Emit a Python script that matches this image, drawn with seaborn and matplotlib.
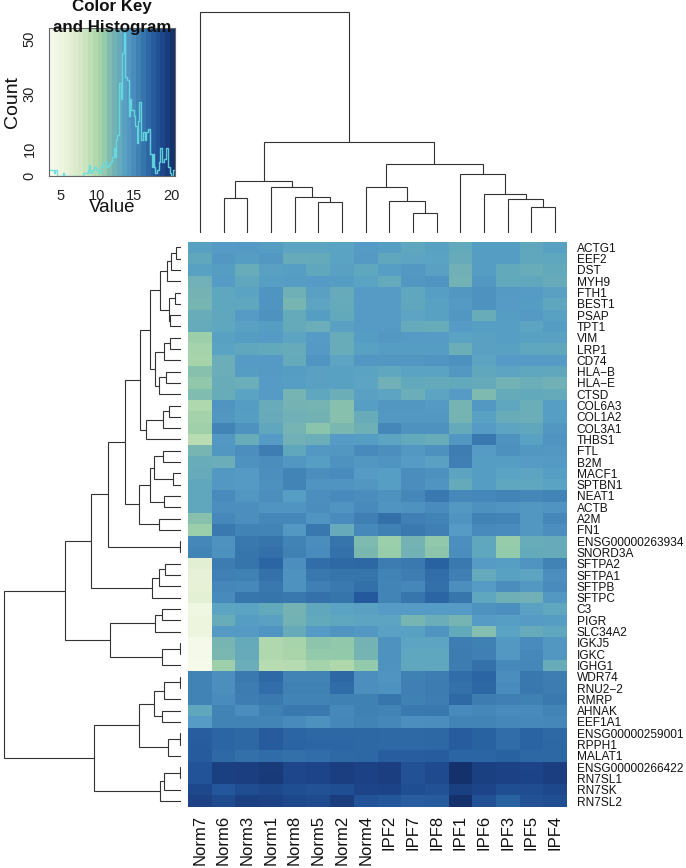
import numpy as np
import pandas as pd
import matplotlib
matplotlib.use("Agg")
import matplotlib.pyplot as plt
from matplotlib.colors import LinearSegmentedColormap
import seaborn as sns

sns.set_theme(style="white")
plt.rcParams['font.family'] = ['Liberation Sans', 'DejaVu Sans']

samples = ["Norm7","Norm6","Norm3","Norm1","Norm8","Norm5","Norm2","Norm4",
           "IPF2","IPF7","IPF8","IPF1","IPF6","IPF3","IPF5","IPF4"]
genes = ["ACTG1","EEF2","DST","MYH9","FTH1","BEST1","PSAP","TPT1","VIM","LRP1","CD74",
         "HLA\u2212B","HLA\u2212E","CTSD","COL6A3","COL1A2","COL3A1","THBS1","FTL","B2M",
         "MACF1","SPTBN1","NEAT1","ACTB","A2M","FN1","ENSG00000263934","SNORD3A",
         "SFTPA2","SFTPA1","SFTPB","SFTPC","C3","PIGR","SLC34A2","IGKJ5","IGKC","IGHG1",
         "WDR74","RNU2\u22122","RMRP","AHNAK","EEF1A1","ENSG00000259001","RPPH1","MALAT1",
         "ENSG00000266422","RN7SL1","RN7SK","RN7SL2"]

expr = [
[13.6,14.0,14.1,13.9,13.4,13.4,13.5,14.0,13.8,13.3,13.6,13.1,13.9,13.9,13.2,13.6],
[13.2,14.2,13.9,14.2,12.9,13.0,13.5,14.1,13.2,13.4,13.5,12.9,13.9,13.9,13.2,13.3],
[13.6,13.9,12.8,13.7,13.8,13.2,13.7,13.3,13.8,14.2,13.7,12.4,13.9,13.1,12.8,13.1],
[12.4,14.0,13.2,13.8,13.9,14.0,13.9,13.5,13.0,14.3,14.5,12.3,14.2,13.1,13.2,12.9],
[12.2,13.3,13.5,14.4,12.5,13.7,12.9,14.0,14.0,13.3,13.8,14.3,14.6,14.1,14.0,13.7],
[12.0,13.3,13.3,14.4,12.0,13.4,13.0,14.0,14.0,13.2,13.6,14.1,14.6,14.0,13.9,13.3],
[12.8,13.2,14.0,14.6,13.0,13.9,13.1,14.0,14.0,13.4,13.6,14.3,12.8,13.9,14.1,13.6],
[13.0,13.3,13.7,13.9,13.0,12.7,13.7,14.0,14.1,13.0,12.8,14.0,13.8,13.8,13.4,13.9],
[10.7,13.6,13.9,14.0,13.4,14.0,12.8,13.9,14.2,14.1,14.0,13.5,13.7,13.8,13.6,13.7],
[10.3,13.5,13.2,13.1,12.9,14.1,12.8,13.6,13.9,13.9,13.9,12.6,13.7,13.6,13.3,13.2],
[10.2,12.7,14.0,14.1,13.0,14.5,13.4,14.3,14.3,14.3,14.5,14.7,13.4,14.1,14.0,14.0],
[11.5,12.7,13.9,14.1,13.9,13.7,13.6,13.5,13.3,13.5,13.5,14.2,13.2,13.4,13.3,13.2],
[11.2,12.8,12.7,14.0,13.8,13.7,13.6,13.4,12.4,13.1,13.0,13.1,13.0,12.3,12.6,12.4],
[11.7,12.8,13.5,14.0,12.1,13.3,12.6,13.7,13.4,12.7,13.4,14.0,11.8,13.0,13.1,13.0],
[ 9.8,14.5,13.9,12.8,12.2,12.1,11.5,13.8,14.3,14.3,14.1,12.1,14.2,13.3,12.6,13.8],
[10.4,14.3,13.8,12.9,12.4,12.3,11.5,12.8,14.2,14.2,14.2,12.1,13.6,12.8,12.6,13.8],
[10.6,15.4,14.6,13.2,12.1,11.4,11.9,12.5,15.3,14.6,14.6,13.0,14.0,13.4,13.2,14.3],
[ 9.3,14.2,12.8,14.0,12.4,12.7,14.0,13.9,13.4,13.1,12.8,14.3,16.0,14.6,13.6,14.4],
[12.0,14.3,14.8,15.8,13.2,14.2,14.3,15.1,14.8,14.2,14.7,15.8,14.0,14.7,14.3,14.2],
[12.8,12.7,14.6,14.9,14.3,13.8,14.6,14.3,14.4,14.0,13.7,15.7,13.9,13.9,14.0,14.1],
[12.9,14.2,14.1,14.8,15.4,14.9,15.0,14.0,13.8,14.9,14.7,13.4,13.9,13.5,13.4,13.8],
[13.2,14.2,14.1,14.7,15.4,14.5,14.4,14.3,13.8,14.9,14.4,13.0,13.9,13.3,13.3,13.5],
[13.2,15.0,14.3,14.8,13.8,14.8,15.1,14.9,14.6,15.3,16.0,15.2,15.3,15.4,15.3,15.4],
[13.2,14.8,14.8,14.5,14.4,14.9,14.5,15.1,14.5,14.6,15.0,14.2,14.7,14.5,14.3,14.5],
[11.5,15.2,14.8,15.3,15.3,14.5,15.0,15.7,16.5,15.7,15.5,14.5,15.5,15.4,14.3,15.3],
[10.8,16.0,15.5,15.4,14.2,16.1,12.9,15.2,15.6,16.0,15.7,14.0,15.1,15.0,14.3,14.8],
[15.3,14.6,16.1,16.3,15.5,14.9,16.3,11.8,10.8,12.2,11.2,14.8,13.2,11.0,12.8,12.9],
[15.4,14.7,16.2,16.5,15.6,15.0,16.4,11.9,10.9,12.3,11.3,14.9,13.3,11.1,13.0,12.9],
[ 6.6,15.9,16.3,17.0,14.8,16.6,16.8,16.9,15.9,16.0,17.2,16.0,14.0,13.8,14.4,15.5],
[ 6.1,15.7,15.6,16.4,14.6,16.1,16.3,16.3,15.5,15.8,16.6,15.7,13.0,13.6,13.4,14.8],
[ 6.2,15.3,15.2,16.1,14.6,15.7,16.0,16.5,15.4,15.3,16.5,14.8,14.0,14.9,14.2,15.0],
[ 6.4,15.1,16.2,16.3,16.1,16.4,16.3,17.7,15.4,16.2,17.0,16.2,13.3,12.5,12.4,14.2],
[ 4.8,13.4,13.5,13.1,12.2,13.2,13.5,13.7,14.0,14.0,14.0,14.0,14.6,14.8,13.7,13.3],
[ 5.2,12.8,13.9,13.7,12.3,13.1,13.3,13.4,13.4,12.0,12.7,12.1,14.0,13.8,14.0,13.9],
[ 5.2,14.1,14.1,14.5,12.9,14.0,14.4,14.2,13.7,13.6,14.5,13.1,11.6,13.5,12.9,13.3],
[ 3.9,12.0,13.0, 9.8,10.2,11.3,11.2,12.2,14.6,13.4,13.4,15.8,15.6,14.2,15.0,14.3],
[ 3.8,11.9,12.9, 9.8,10.1,11.1,11.1,12.1,14.6,13.3,13.3,15.9,15.7,14.2,15.2,14.3],
[ 3.6,10.7,12.7, 9.4, 9.5,10.3, 9.9,11.1,14.6,13.2,13.2,15.9,16.4,15.2,15.3,12.8],
[15.5,14.8,16.0,16.8,15.5,15.5,16.9,14.8,14.5,15.6,15.8,16.6,17.0,14.9,16.1,15.8],
[15.5,14.8,15.9,16.6,15.6,15.6,16.7,14.8,14.6,15.7,15.9,16.4,16.9,15.0,16.1,15.9],
[15.5,15.0,15.8,16.0,15.5,15.5,15.6,15.6,16.2,15.6,15.8,16.8,15.9,15.7,15.6,16.0],
[13.2,15.5,14.9,15.6,16.0,16.0,15.2,15.6,15.5,16.0,16.1,15.1,15.3,15.0,15.1,15.4],
[14.0,15.5,15.5,15.4,15.1,14.7,15.3,15.5,15.3,14.8,14.9,15.4,15.4,15.3,15.2,15.3],
[17.4,17.0,16.9,17.6,17.0,16.9,16.9,16.9,16.8,16.8,16.9,17.5,17.2,16.6,17.1,16.8],
[17.5,17.0,16.9,17.6,17.1,17.0,17.0,16.9,16.8,16.8,16.9,17.5,17.2,16.7,17.1,16.9],
[17.6,16.8,16.5,16.7,16.5,16.6,16.8,16.9,17.4,17.4,17.5,17.0,17.0,17.2,16.9,16.9],
[18.1,19.3,19.4,19.6,18.9,19.0,19.4,19.2,19.4,18.2,18.6,20.3,19.3,19.2,19.0,19.4],
[18.1,19.3,19.4,19.7,18.9,19.0,19.4,19.2,19.4,18.2,18.7,20.3,19.3,19.2,19.1,19.4],
[18.8,17.9,18.5,18.8,18.4,18.2,18.4,19.0,19.1,18.4,18.2,19.3,19.0,18.4,18.5,18.8],
[19.2,18.7,19.3,19.2,18.8,18.7,19.5,18.1,17.9,17.4,17.6,20.3,18.3,17.2,18.2,18.4],
]

# colour scale: value -> colour
scale_values = [3.5, 6, 8, 10, 11, 12, 13, 13.5, 14, 15, 16, 17, 18, 19, 20.5]
scale_colors = ["#f6faec","#e8f2d8","#d2e6c2","#acd6ab","#96ccaa","#78b5b2","#65aabb","#5ba3c2",
                "#559cc5","#4a8cbc","#3a7ab0","#2b66a3","#23549a","#1d4589","#142e66"]
vmin, vmax = scale_values[0], scale_values[-1]
cmap = LinearSegmentedColormap.from_list(
    "key", [((v - vmin) / (vmax - vmin), c) for v, c in zip(scale_values, scale_colors)], N=256)

# histogram of the colour key (bin start, count)
hist_value = [3.5,4.1,4.3,4.55,5.35,5.55,8.05,8.23,8.68,8.86,9.04,9.31,9.58,9.85,10.21,10.53,10.8,
              11.11,11.38,11.65,11.92,12.19,12.37,12.46,12.68,12.91,13.18,13.36,13.54,13.72,14.07,
              14.25,14.43,14.61,14.97,15.15,15.33,15.51,15.69,15.87,16.14,16.41,16.59,16.86,17.13,
              17.4,17.58,17.67,17.85,18.12,18.3,18.48,18.75,19.02,19.29,19.56,19.83,20.0,20.27,20.5]
hist_count = [2,1,2,0,1,0,1,1,2,4,1,2,3,2,1,3,5,3,4,5,7,10,7,13,15,34,28,45,52,36,35,22,28,24,22,18,
              12,20,27,13,16,13,16,17,8,3,8,3,1,2,5,10,5,6,10,3,1,0,2,2]

# dendrograms: (height, left, right), "L" is a leaf; heights are pixels above the leaf tips
col_tree = (221.7,
            "L",
            (91,
             (52.3, (35, "L", "L"), (46.7, "L", (36.7, "L", (31, "L", "L")))),
             (69.3,
              (46.7, "L", (32.3, "L", (20.7, "L", "L"))),
              (59, "L", (39, "L", (34.3, "L", (26, "L", "L")))))))

group_a = (21, (13.7, (10.3, (5.3, "L", "L"), "L"), "L"),
           (12.3, (6, "L", "L"), (11, "L", "L")))
group_b = (26, (17.3, (10.7, "L", "L"), "L"), (21.7, (15.3, "L", "L"), "L"))
group_c = (35.3, (17.7, (12.3, "L", "L"), "L"), "L")
group_abc = (41.3, (31.3, group_a, group_b), group_c)
group_e = (31, (27.3, (17.7, "L", "L"), (8, "L", "L")), (17, "L", "L"))
group_f = (21.7, "L", "L")
group_head = (55.7, group_abc, (41.7, group_e, group_f))
group_sno = (73.3, group_head, (0.7, "L", "L"))
group_sft = (28.7, (21.7, (15.7, "L", "L"), "L"), "L")
group_mid = (70.7, (26.3, (19.3, "L", "L"), "L"), (19.3, (1, "L", "L"), "L"))
group_up = (116, (90, group_sno, group_sft), group_mid)
group_m = (41.7, (27, (17, (0.7, "L", "L"), "L"), (19.3, "L", "L")),
           (13.3, (0.7, "L", "L"), "L"))
group_n = (20.7, (17.3, (0.7, "L", "L"), "L"), "L")
row_tree = (177.3, group_up, (87, group_m, group_n))


def layout(node, counter, segs):
    """Walk a tree, return (leaf position, height) and collect its segments."""
    if node == "L":
        p = counter[0]
        counter[0] += 1
        return p, 0.0
    h, a, b = node
    pa, ha = layout(a, counter, segs)
    pb, hb = layout(b, counter, segs)
    segs.append(([pa, pa, pb, pb], [ha, h, h, hb]))
    return (pa + pb) / 2, h


W, H = 686, 868
fig = plt.figure(figsize=(W / 100, H / 100), dpi=100, facecolor="white")


def box(l, t, r, b):
    return [l / W, 1 - b / H, (r - l) / W, (b - t) / H]


# main heatmap
df = pd.DataFrame(expr, index=genes, columns=samples)
ax = fig.add_axes(box(188, 241.7, 567, 806.7))
sns.heatmap(df, ax=ax, cmap=cmap, vmin=vmin, vmax=vmax, cbar=False,
            xticklabels=True, yticklabels=True)
ax.set_xlabel("")
ax.set_ylabel("")
ax.yaxis.tick_right()
ax.tick_params(axis="y", length=0, pad=7, labelsize=8.6, rotation=0, labelcolor="#111111")
ax.tick_params(axis="x", length=0, pad=6, labelsize=12, rotation=90, labelcolor="#111111")

# column dendrogram
dax = fig.add_axes(box(188, 0, 567, 233.3))
segs = []
layout(col_tree, [0], segs)
for xs, ys in segs:
    dax.plot(np.array(xs) + 0.5, ys, color="#333333", lw=0.8, solid_joinstyle="miter")
dax.set_xlim(0, len(samples))
dax.set_ylim(0, 233.3)
dax.axis("off")

# row dendrogram
rax = fig.add_axes(box(0, 241.7, 181, 806.7))
segs = []
layout(row_tree, [0], segs)
for ps, hs in segs:
    rax.plot(hs, np.array(ps) + 0.5, color="#333333", lw=0.8, solid_joinstyle="miter")
rax.set_xlim(181, 0)
rax.set_ylim(len(genes), 0)
rax.axis("off")

# colour key with histogram
kax = fig.add_axes(box(49.3, 28.3, 175, 175.7))
key_levels = np.linspace(vmin, vmax, 27)
kax.pcolormesh(key_levels, [0, 53.9], np.atleast_2d((key_levels[:-1] + key_levels[1:]) / 2),
               cmap=cmap, vmin=vmin, vmax=vmax, shading="flat", rasterized=True)
sns.lineplot(x=hist_value, y=hist_count, ax=kax, color="#66dde2", lw=1.0, alpha=0.9,
             drawstyle="steps-post", estimator=None, sort=False, errorbar=None)
kax.set_xlim(vmin, vmax)
kax.set_ylim(0, 53.9)
kax.set_xticks([5, 10, 15, 20])
kax.set_yticks([0, 10, 20, 30, 40, 50], labels=["0", "10", "", "30", "", "50"])
kax.tick_params(axis="x", length=5.5, width=0.8, color="#555555", pad=4, labelsize=10.5, labelcolor="#222222")
kax.tick_params(axis="y", length=5, width=0.8, color="#555555", pad=4, labelsize=10.5, labelcolor="#222222")
for lab in kax.get_yticklabels():
    lab.set_rotation(90)
    lab.set_va("center")
for s in kax.spines.values():
    s.set_color("#666666")
    s.set_linewidth(0.8)
    s.set_visible(True)
fig.text(13 / W, 1 - 102 / H, "Count", rotation=90, ha="center", va="center", fontsize=14, color="#111111")
fig.text(112 / W, 1 - 207 / H, "Value", ha="center", va="center", fontsize=13.5, color="#111111")
fig.text(112 / W, 1 - 10.5 / H, "Color Key", ha="center", va="baseline", fontsize=12.2, fontweight="bold", color="#111111")
fig.text(112 / W, 1 - 32 / H, "and Histogram", ha="center", va="baseline", fontsize=12.2, fontweight="bold", color="#111111")

fig.savefig("out.png", dpi=100)
